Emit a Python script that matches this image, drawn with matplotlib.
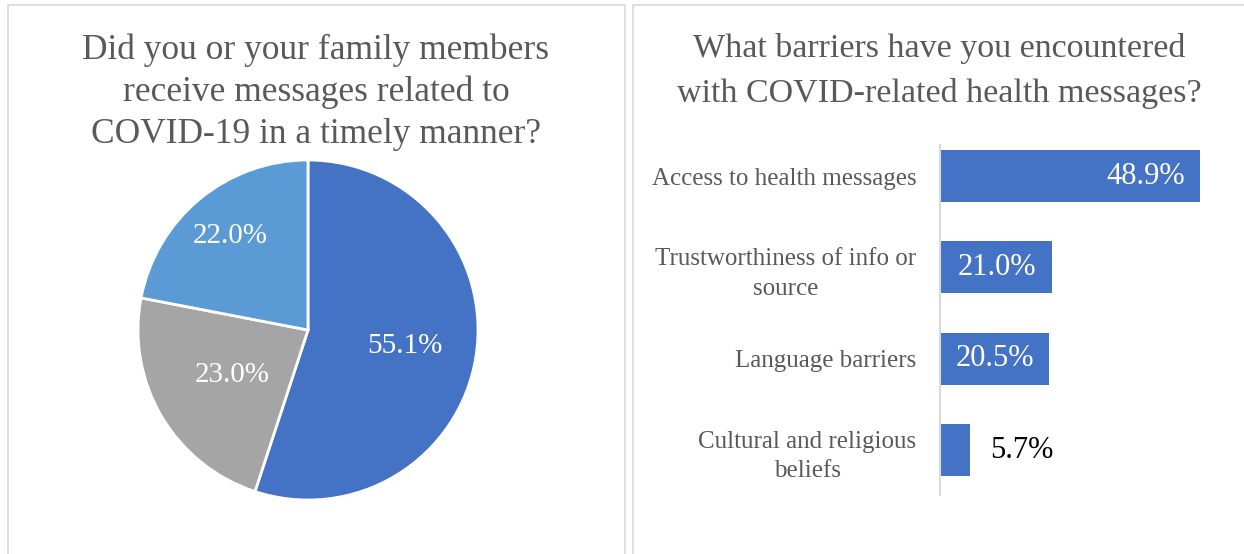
import numpy as np
import matplotlib.pyplot as plt
from matplotlib.patches import Rectangle

plt.rcParams['font.family'] = ['Liberation Serif', 'DejaVu Serif']

# timely messages pie
pie_values = [55.1, 23.0, 22.0]
pie_colors = ['#4472C4', '#A5A5A5', '#5B9BD5']

# barriers bar chart
barriers = ['Access to health messages', 'Trustworthiness of info or\nsource',
            'Language barriers', 'Cultural and religious\nbeliefs']
barrier_pct = [48.9, 21.0, 20.5, 5.7]

W, H = 1244, 554
fig = plt.figure(figsize=(W / 100, H / 100), dpi=100)

def px(x0, y0, x1, y1):
    # pixel box (top-left origin) -> figure fraction rect
    return [x0 / W, 1 - y1 / H, (x1 - x0) / W, (y1 - y0) / H]

# panel frames
for x0, x1 in [(8, 625), (633, 1250)]:
    fig.patches.append(Rectangle((x0 / W, -0.05), (x1 - x0) / W, 1 - 5 / H + 0.05,
                                 transform=fig.transFigure, fill=False,
                                 edgecolor='#D9D9D9', linewidth=1.2))

title_color = '#595959'
fig.text(316 / W, 1 - 92 / H,
         'Did you or your family members\nreceive messages related to\nCOVID-19 in a timely manner?',
         ha='center', va='center', fontsize=25.5, color=title_color, linespacing=1.35)
fig.text(939 / W, 1 - 71 / H,
         'What barriers have you encountered\nwith COVID-related health messages?',
         ha='center', va='center', fontsize=24.5, color=title_color, linespacing=1.55)

# pie
ax1 = fig.add_axes(px(138, 160, 478, 500))
wedges, texts = ax1.pie(pie_values, colors=pie_colors, startangle=90, counterclock=False,
                        wedgeprops=dict(edgecolor='white', linewidth=2),
                        labels=[f'{v:.1f}%' for v in pie_values],
                        textprops=dict(color='white', fontsize=21))
# best-fit style label placement: distance from centre per slice
label_dist = [0.58, 0.52, 0.72]
for w, t, d in zip(wedges, texts, label_dist):
    ang = np.deg2rad((w.theta1 + w.theta2) / 2)
    t.set_position((d * np.cos(ang), d * np.sin(ang)))
    t.set_ha('center')
    t.set_va('center')
ax1.set_xlim(-1, 1)
ax1.set_ylim(-1, 1)
ax1.set_aspect('equal')

# bars
ax2 = fig.add_axes(px(940, 145, 1206, 495))
ypos = list(range(len(barriers)))
ax2.barh(ypos, barrier_pct, height=0.57, color='#4472C4')
ax2.set_xlim(0, 50)
ax2.set_ylim(3.49, -0.34)
ax2.set_yticks(ypos)
ax2.set_yticklabels(barriers, fontsize=18, color=title_color, ha='right',
                    multialignment='center', linespacing=1.45)
ax2.tick_params(axis='y', length=0, pad=17)
ax2.set_xticks([])
for side in ['top', 'right', 'bottom']:
    ax2.spines[side].set_visible(False)
ax2.spines['left'].set_color('#D9D9D9')
ax2.spines['left'].set_linewidth(1.5)
for y, v in zip(ypos, barrier_pct):
    if v > 10:
        ax2.annotate(f'{v:.1f}%', (v, y), xytext=(-11, 0), textcoords='offset points',
                     ha='right', va='center', color='white', fontsize=22)
    else:
        ax2.annotate(f'{v:.1f}%', (v, y), xytext=(14, 0), textcoords='offset points',
                     ha='left', va='center', color='black', fontsize=22)

fig.savefig('out.png', dpi=100)
